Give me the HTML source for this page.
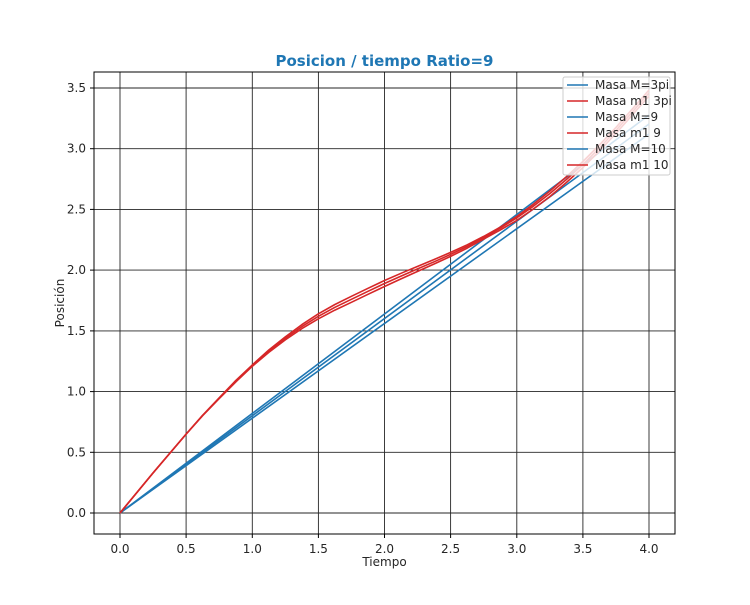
<!DOCTYPE html>
<html><head><meta charset="utf-8"><style>
html,body{margin:0;padding:0;background:#fff;}
svg text{font-family:"DejaVu Sans","Liberation Sans",sans-serif;fill:#262626;}
</style></head><body>
<svg width="750" height="600" xmlns="http://www.w3.org/2000/svg">
<rect width="750" height="600" fill="#fff"/>
<g stroke="#000" stroke-width="0.9" opacity="0.85">
<line x1="120" y1="72" x2="120" y2="534"/>
<line x1="186.1" y1="72" x2="186.1" y2="534"/>
<line x1="252.3" y1="72" x2="252.3" y2="534"/>
<line x1="318.4" y1="72" x2="318.4" y2="534"/>
<line x1="384.5" y1="72" x2="384.5" y2="534"/>
<line x1="450.6" y1="72" x2="450.6" y2="534"/>
<line x1="516.8" y1="72" x2="516.8" y2="534"/>
<line x1="582.9" y1="72" x2="582.9" y2="534"/>
<line x1="649" y1="72" x2="649" y2="534"/>
<line x1="94" y1="513" x2="675" y2="513"/>
<line x1="94" y1="452.3" x2="675" y2="452.3"/>
<line x1="94" y1="391.6" x2="675" y2="391.6"/>
<line x1="94" y1="330.9" x2="675" y2="330.9"/>
<line x1="94" y1="270.1" x2="675" y2="270.1"/>
<line x1="94" y1="209.4" x2="675" y2="209.4"/>
<line x1="94" y1="148.7" x2="675" y2="148.7"/>
<line x1="94" y1="88" x2="675" y2="88"/>
</g>
<g stroke="#1f77b4" stroke-width="1.6" fill="none">
<line x1="120" y1="513" x2="649" y2="134"/>
<line x1="120" y1="513" x2="649" y2="124"/>
<line x1="120" y1="513" x2="649" y2="115"/>
</g>
<g stroke="#d62728" stroke-width="1.6" fill="none" stroke-linejoin="round">
<polyline points="120,513 153.1,472.9 186.1,434.1 202.6,415.5 219.2,398.2 235.7,381.2 252.3,365.6 268.8,351.2 285.3,338.4 301.9,326.6 318.4,316.3 334.9,307.3 351.4,299.3 368,291.3 384.5,283.5 401,276.1 417.6,268.9 434.1,261.8 450.6,254.4 467.2,246.4 483.7,237.4 500.2,228.2 516.8,217.9 533.3,206.3 549.8,193.6 566.4,179.5 582.9,164.5 599.4,148 615.9,130.5 632.5,111.8 649,92.9"/>
<polyline points="120,513 153.1,472.9 186.1,434.1 202.6,415.3 219.2,397.8 235.7,380.6 252.3,364.9 268.8,350 285.3,336.9 301.9,324.6 318.4,313.8 334.9,304.5 351.4,296.3 368,288.3 384.5,280.5 401,273.3 417.6,266.4 434.1,259.5 450.6,252.4 467.2,244.8 483.7,236.4 500.2,227.2 516.8,216.4 533.3,204.3 549.8,191.1 566.4,176.7 582.9,161.5 599.4,145 615.9,127.5 632.5,108.8 649,90"/>
<polyline points="120,513 153.1,472.9 186.1,434.1 202.6,415.7 219.2,398.6 235.7,382 252.3,366.3 268.8,352.4 285.3,339.9 301.9,328.6 318.4,318.8 334.9,310.1 351.4,302.3 368,294.3 384.5,286.5 401,278.9 417.6,271.4 434.1,264 450.6,256.4 467.2,248.1 483.7,239 500.2,230 516.8,220.4 533.3,209 549.8,196.6 566.4,182.5 582.9,167.5 599.4,151 615.9,133.5 632.5,114.8 649,96"/>
</g>
<rect x="94" y="72" width="581" height="462" fill="none" stroke="#000" stroke-width="1"/>
<g stroke="#000" stroke-width="1">
<line x1="120" y1="534" x2="120" y2="538"/><line x1="186.1" y1="534" x2="186.1" y2="538"/><line x1="252.3" y1="534" x2="252.3" y2="538"/><line x1="318.4" y1="534" x2="318.4" y2="538"/><line x1="384.5" y1="534" x2="384.5" y2="538"/><line x1="450.6" y1="534" x2="450.6" y2="538"/><line x1="516.8" y1="534" x2="516.8" y2="538"/><line x1="582.9" y1="534" x2="582.9" y2="538"/><line x1="649" y1="534" x2="649" y2="538"/>
<line x1="90" y1="513" x2="94" y2="513"/><line x1="90" y1="452.3" x2="94" y2="452.3"/><line x1="90" y1="391.6" x2="94" y2="391.6"/><line x1="90" y1="330.9" x2="94" y2="330.9"/><line x1="90" y1="270.1" x2="94" y2="270.1"/><line x1="90" y1="209.4" x2="94" y2="209.4"/><line x1="90" y1="148.7" x2="94" y2="148.7"/><line x1="90" y1="88" x2="94" y2="88"/>
</g>
<g font-size="12" text-anchor="middle">
<text x="120" y="553">0.0</text><text x="186.1" y="553">0.5</text><text x="252.3" y="553">1.0</text><text x="318.4" y="553">1.5</text><text x="384.5" y="553">2.0</text><text x="450.6" y="553">2.5</text><text x="516.8" y="553">3.0</text><text x="582.9" y="553">3.5</text><text x="649" y="553">4.0</text>
</g>
<g font-size="12" text-anchor="end">
<text x="86" y="517">0.0</text><text x="86" y="456.3">0.5</text><text x="86" y="395.6">1.0</text><text x="86" y="334.9">1.5</text><text x="86" y="274.1">2.0</text><text x="86" y="213.4">2.5</text><text x="86" y="152.7">3.0</text><text x="86" y="92">3.5</text>
</g>
<text x="384.5" y="566" font-size="12" text-anchor="middle">Tiempo</text>
<text x="0" y="0" font-size="12" text-anchor="middle" transform="translate(64,303) rotate(-90)">Posición</text>
<text x="384.5" y="66" font-size="15" font-weight="bold" text-anchor="middle" style="fill:#1f77b4">Posicion / tiempo Ratio=9</text>
<rect x="563" y="77" width="107" height="98" rx="2" fill="#fff" fill-opacity="0.8" stroke="#ccc" stroke-width="1"/>
<g stroke-width="1.6">
<line x1="567" y1="85" x2="588" y2="85" stroke="#1f77b4"/>
<line x1="567" y1="101" x2="588" y2="101" stroke="#d62728"/>
<line x1="567" y1="117" x2="588" y2="117" stroke="#1f77b4"/>
<line x1="567" y1="133" x2="588" y2="133" stroke="#d62728"/>
<line x1="567" y1="149" x2="588" y2="149" stroke="#1f77b4"/>
<line x1="567" y1="165" x2="588" y2="165" stroke="#d62728"/>
</g>
<g font-size="12">
<text x="595" y="89">Masa M=3pi</text>
<text x="595" y="105">Masa m1 3pi</text>
<text x="595" y="121">Masa M=9</text>
<text x="595" y="137">Masa m1 9</text>
<text x="595" y="153">Masa M=10</text>
<text x="595" y="169">Masa m1 10</text>
</g>
</svg>
</body></html>
